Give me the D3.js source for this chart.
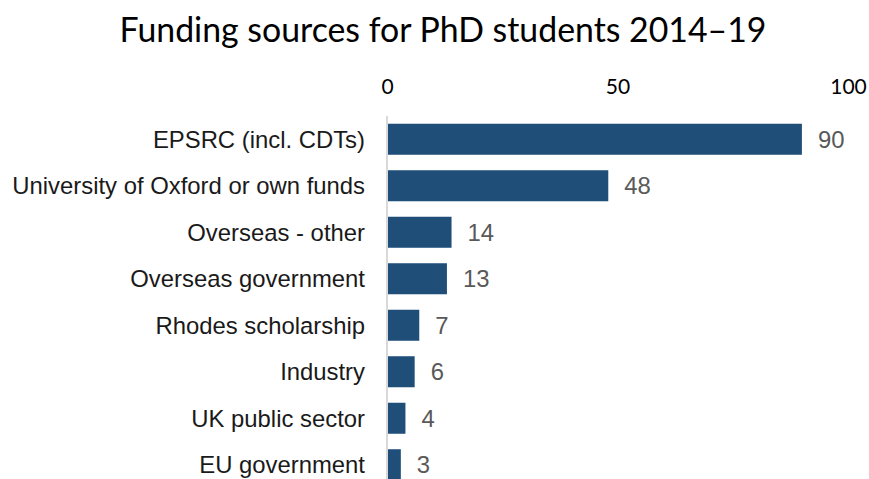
<!DOCTYPE html>
<html>
<head>
<meta charset="utf-8">
<script src="https://cdn.jsdelivr.net/npm/d3@7"></script>
<style>
  html,body{margin:0;padding:0;background:#fff;}
  svg{display:block;}
  .lab{font-family:"Liberation Sans",Arimo,Arial,Helvetica,sans-serif;}
</style>
</head>
<body>
<div id="chart"></div>
<script>
const categories=["EPSRC (incl. CDTs)","University of Oxford or own funds","Overseas - other","Overseas government","Rhodes scholarship","Industry","UK public sector","EU government"];
const values=[90,48,14,13,7,6,4,3];
const ticks=[0,50,100];
const title="Funding sources for PhD students 2014\u201319";

(function(){
  const W=869,H=479;
  const barColor="#1f4e79",valColor="#595959",ink="#1a1a1a";
  const data=categories.map((c,i)=>({name:c,value:values[i]}));
  const svg=d3.select("#chart").append("svg").attr("width",W).attr("height",H);

  const x=d3.scaleLinear().domain([0,100]).range([387,848]);
  const y=d3.scaleBand().domain(categories).range([116,488]).paddingInner(.333).paddingOuter(.1665);

  // title, fitted to the width it takes in the original
  const t=svg.append("text").attr("x",443).attr("y",42).attr("text-anchor","middle")
    .attr("font-family","Lato, 'Open Sans', sans-serif").attr("font-size",32).attr("fill","#000")
    .text(title);
  const tw=t.node().getComputedTextLength();
  t.attr("font-size",32*647/tw);

  // top axis
  svg.append("g").attr("transform","translate(0,94)")
    .call(d3.axisTop(x).tickValues(ticks).tickSize(0).tickPadding(0))
    .call(s=>s.select(".domain").remove())
    .call(s=>s.selectAll("text").attr("font-family","Lato, 'Open Sans', sans-serif")
      .attr("font-size",21).attr("fill","#000").attr("dy",0));

  // baseline
  svg.append("line").attr("x1",x(0)).attr("x2",x(0)).attr("y1",116).attr("y2",H)
    .attr("stroke","#d9d9d9").attr("stroke-width",2);

  svg.selectAll(".bar").data(data).join("rect")
    .attr("x",x(0)+1).attr("y",d=>y(d.name))
    .attr("width",d=>x(d.value)-x(0)-1).attr("height",y.bandwidth())
    .attr("fill",barColor);

  const cats=svg.selectAll(".cat").data(data).join("text").attr("class","lab")
    .attr("x",365).attr("y",d=>y(d.name)+y.bandwidth()/2).attr("dy",".36em")
    .attr("text-anchor","end").attr("font-size",20).attr("fill",ink).text(d=>d.name);
  // longest label spans ~353px in the original
  const lw=d3.max(cats.nodes(),n=>n.getComputedTextLength());
  const fs=20*353/lw;
  cats.attr("font-size",fs);

  svg.selectAll(".val").data(data).join("text").attr("class","lab")
    .attr("x",d=>x(d.value)+16).attr("y",d=>y(d.name)+y.bandwidth()/2).attr("dy",".36em")
    .attr("font-size",fs).attr("fill",valColor).text(d=>d.value);
})();
</script>
</body>
</html>
